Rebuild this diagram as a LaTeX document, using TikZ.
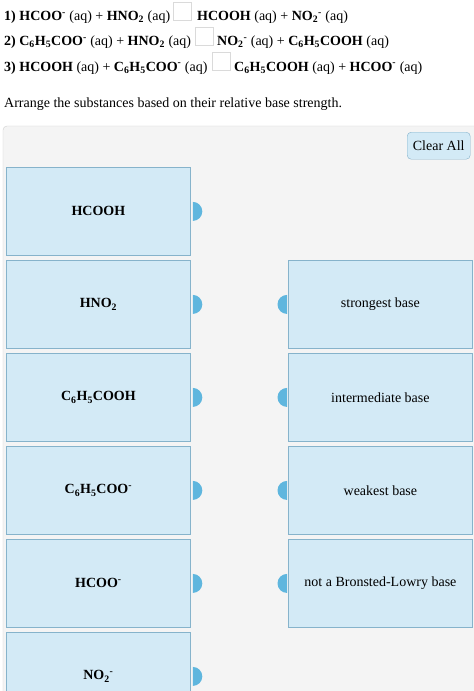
\documentclass[tikz,border=0pt]{standalone}
\usepackage{fontspec}
\setmainfont{Liberation Serif}
\definecolor{boxfill}{HTML}{D3EAF6}
\definecolor{boxline}{HTML}{86B3CB}
\definecolor{tabblue}{HTML}{5FB6DE}
\definecolor{panelfill}{HTML}{F4F4F4}
\definecolor{panelline}{HTML}{CFCFCF}
\definecolor{blankline}{HTML}{DADADA}
\tikzset{
  eqtext/.style={inner sep=0pt, anchor=base west, font=\fontsize{14}{17}\selectfont},
  blank/.style={draw=blankline, fill=white, minimum width=18pt, minimum height=18pt, inner sep=0pt, anchor=north west},
  card/.style={draw=boxline, fill=boxfill, line width=0.8pt, minimum width=184pt, minimum height=88pt, inner sep=0pt, anchor=north west, font=\fontsize{14}{17}\selectfont},
  tab/.style={fill=tabblue},
}
\newcommand{\chg}{\textsuperscript{-}}
\begin{document}
\begin{tikzpicture}[x=1pt,y=-1pt]
\useasboundingbox (0,0) rectangle (474,691);
\fill[white] (0,0) rectangle (474,691);
% equations
\node[eqtext] (e1l) at (4,20.5) {\textbf{1) HCOO\chg} (aq) + \textbf{HNO\textsubscript{2}} (aq)};
\node[blank] (b1) at (173,2) {};
\node[eqtext] (e1r) at (197,20.5) {\textbf{HCOOH} (aq) + \textbf{NO\textsubscript{2}\chg} (aq)};
\node[eqtext] (e2l) at (4,45.5) {\textbf{2) C\textsubscript{6}H\textsubscript{5}COO\chg} (aq) + \textbf{HNO\textsubscript{2}} (aq)};
\node[blank] (b2) at (194.5,27) {};
\node[eqtext] (e2r) at (217,45.5) {\textbf{NO\textsubscript{2}\chg} (aq) + \textbf{C\textsubscript{6}H\textsubscript{5}COOH} (aq)};
\node[eqtext] (e3l) at (4,71) {\textbf{3) HCOOH} (aq) + \textbf{C\textsubscript{6}H\textsubscript{5}COO\chg} (aq)};
\node[blank] (b3) at (211.5,52) {};
\node[eqtext] (e3r) at (234,71) {\textbf{C\textsubscript{6}H\textsubscript{5}COOH} (aq) + \textbf{HCOO\chg} (aq)};
\node[eqtext] (ins) at (4,107) {Arrange the substances based on their relative base strength.};
% panel
\draw[panelline, fill=panelfill, rounded corners=4pt] (3,126) rectangle (490,720);
\node[draw=boxline, fill=boxfill, rounded corners=4pt, minimum width=63pt, minimum height=27pt, inner sep=0pt, anchor=north west, font=\fontsize{14}{17}\selectfont] (clear) at (407,132) {Clear All};
% left cards
\foreach \n/\t/\txt in {l1/167/\textbf{HCOOH}, l2/260/\textbf{HNO\textsubscript{2}}, l3/353/\textbf{C\textsubscript{6}H\textsubscript{5}COOH}, l4/446/\textbf{C\textsubscript{6}H\textsubscript{5}COO\chg}, l5/539/\textbf{HCOO\chg}, l6/632/\textbf{NO\textsubscript{2}\chg}}{
  \node[card] (\n) at (6,\t) {\txt};
  \fill[tab] ([xshift=2pt]\n.east) ++(0,9.5pt) arc[start angle=90, end angle=-90, radius=9.5pt] -- cycle;
}
% right cards
\foreach \n/\t/\txt in {r1/260/strongest base, r2/353/intermediate base, r3/446/weakest base, r4/539/not a Bronsted-Lowry base}{
  \node[card] (\n) at (288,\t) {\txt};
  \fill[tab] ([xshift=-1pt]\n.west) ++(0,9.5pt) arc[start angle=90, end angle=270, radius=9.5pt] -- cycle;
}
\end{tikzpicture}
\end{document}
